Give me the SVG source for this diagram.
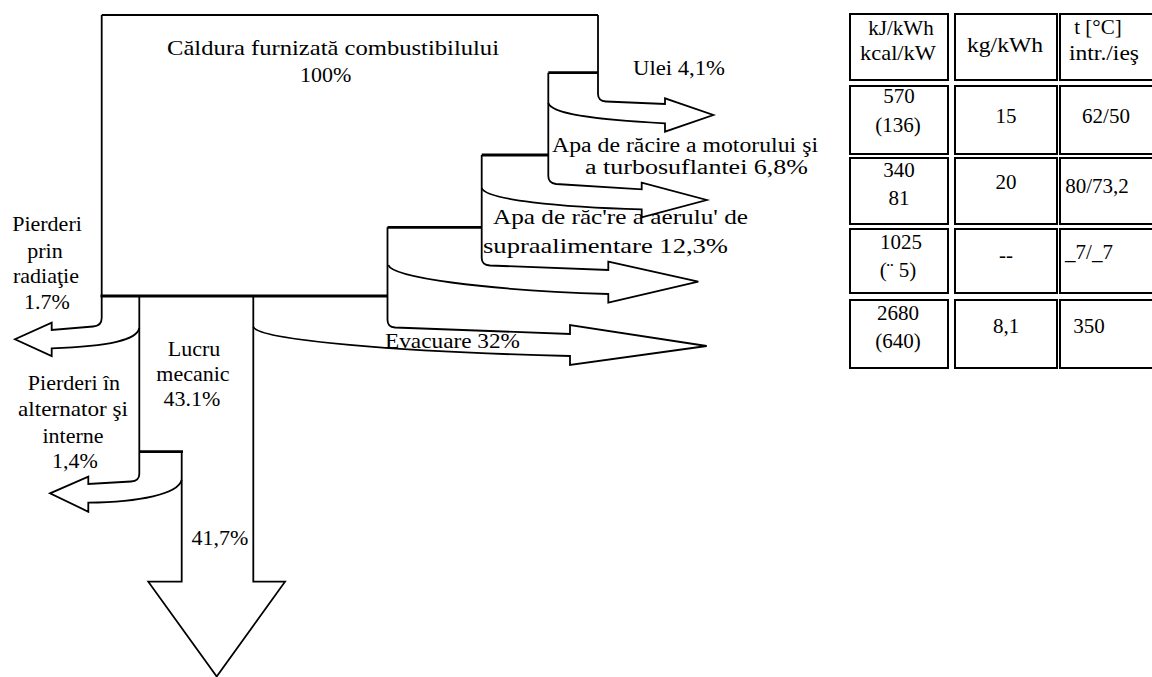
<svg xmlns="http://www.w3.org/2000/svg" width="1152" height="677" viewBox="0 0 1152 677">
<style>
.ln{fill:none;stroke:#000;stroke-width:1.8;stroke-linejoin:miter;stroke-linecap:butt}
.tk{fill:none;stroke:#000;stroke-width:2.8}
.cell{fill:#fff;stroke:#000;stroke-width:2}
text{font-family:"Liberation Serif","Times New Roman",serif;font-size:22px;fill:#000}
.tb{font-size:21px;text-anchor:middle}
.m{text-anchor:middle}
.sm{font-size:20.5px}
</style>
<rect width="1152" height="677" fill="#fff"/>
<g id="connectors">
  <path class="ln" d="M101.7,15 H598"/>
  <path class="ln" d="M598,15 V94 Q598,101 606,101.5 L665,104 V98.3 L713.3,115 L665,131.7 V123.3 C580,119 551,112 548.3,103"/>
  <path class="ln" d="M548.3,72.7 V176 Q548.3,183 556,184 L641.7,189.3 V182.7 L706.7,200 L641.7,217.3 V209.3 C560,207 486,200 481.7,188"/>
  <path class="ln" d="M481.7,155 V258 Q481.7,265 490,265.5 L608.3,270 V261.7 L698.3,281.7 L608.3,302.7 V294 C480,290 392,277 388.3,265"/>
  <path class="ln" d="M387.5,227.3 V320 Q387.5,327 395,327.5 L570,334 V325 L706.7,346 L570,365 V356 C400,352 258,340 253.3,326.7"/>
  <path class="ln" d="M101.7,15 V318 Q101.7,326 93,326.5 L51.7,330 V322.7 L15,339.3 L51.7,356 V348.3 C110,346 137,340 139.3,328"/>
  <path class="ln" d="M139.3,296 V474 Q139.3,481 131,481.5 L88.3,484 V476.7 L50,493.3 L88.3,511.7 V502.7 C140,502 178,494 181.7,480"/>
  <path class="ln" d="M181.7,451.7 V581.7 H148.3 L216.7,676.5 L285,581.7 H253.3 V296"/>
  <path class="tk" d="M548.3,72.7 H598"/>
  <path class="tk" d="M481.7,155 H548.3"/>
  <path class="tk" d="M387.5,227.3 H481.7"/>
  <path class="tk" d="M100.5,296 H387.5"/>
  <path class="tk" d="M139.3,451.7 H183"/>
</g>
<g id="caldura">
  <text x="167" y="55" textLength="332" lengthAdjust="spacingAndGlyphs">Căldura furnizată combustibilului</text>
  <text x="300" y="82">100%</text>
</g>
<g id="ulei">
  <text x="633" y="75" textLength="92" lengthAdjust="spacingAndGlyphs">Ulei 4,1%</text>
</g>
<g id="apa-motor">
  <text class="sm" x="552" y="152" textLength="266" lengthAdjust="spacingAndGlyphs">Apa de răcire a motorului şi</text>
  <text class="sm" x="585" y="174" textLength="223" lengthAdjust="spacingAndGlyphs">a turbosuflantei 6,8%</text>
</g>
<g id="apa-aer">
  <text x="493" y="224" textLength="255" lengthAdjust="spacingAndGlyphs">Apa de răc're a aerulu' de</text>
  <text x="483" y="253" textLength="245" lengthAdjust="spacingAndGlyphs">supraalimentare 12,3%</text>
</g>
<g id="evacuare">
  <text x="385" y="348" textLength="135" lengthAdjust="spacingAndGlyphs">Evacuare 32%</text>
</g>
<g id="radiatie">
  <text class="m" x="47" y="231">Pierderi</text>
  <text class="m" x="45" y="258">prin</text>
  <text class="m" x="46" y="283">radiaţie</text>
  <text class="m" x="47" y="309">1.7%</text>
</g>
<g id="alternator">
  <text class="m" x="74" y="390">Pierderi în</text>
  <text class="m" x="73" y="416" textLength="110" lengthAdjust="spacingAndGlyphs">alternator şi</text>
  <text class="m" x="73" y="443">interne</text>
  <text class="m" x="75" y="468">1,4%</text>
</g>
<g id="lucru">
  <text class="m" x="194" y="356">Lucru</text>
  <text class="m" x="193" y="381">mecanic</text>
  <text class="m" x="192" y="406">43.1%</text>
</g>
<g id="util">
  <text class="m" x="220" y="545">41,7%</text>
</g>
<g id="tabel">
  <rect class="cell" x="850" y="14" width="98" height="66"/>
  <rect class="cell" x="955" y="14" width="102" height="66"/>
  <rect class="cell" x="1060" y="14" width="96" height="66"/>
  <rect class="cell" x="850" y="86" width="98" height="68"/>
  <rect class="cell" x="955" y="86" width="102" height="68"/>
  <rect class="cell" x="1060" y="86" width="96" height="68"/>
  <rect class="cell" x="850" y="158" width="98" height="66"/>
  <rect class="cell" x="955" y="158" width="102" height="66"/>
  <rect class="cell" x="1060" y="158" width="96" height="66"/>
  <rect class="cell" x="850" y="229" width="98" height="64"/>
  <rect class="cell" x="955" y="229" width="102" height="64"/>
  <rect class="cell" x="1060" y="229" width="96" height="64"/>
  <rect class="cell" x="850" y="300" width="98" height="68"/>
  <rect class="cell" x="955" y="300" width="102" height="68"/>
  <rect class="cell" x="1060" y="300" width="96" height="68"/>
  <text class="tb" x="901" y="35">kJ/kWh</text>
  <text class="tb" x="898" y="60" textLength="76" lengthAdjust="spacingAndGlyphs">kcal/kW</text>
  <text class="tb" x="1005" y="52" textLength="76" lengthAdjust="spacingAndGlyphs">kg/kWh</text>
  <text class="tb" x="1098" y="34">t [°C]</text>
  <text class="tb" x="1104" y="60" textLength="70" lengthAdjust="spacingAndGlyphs">intr./ieş</text>
  <text class="tb" x="899" y="103">570</text>
  <text class="tb" x="898" y="132">(136)</text>
  <text class="tb" x="1006" y="123">15</text>
  <text class="tb" x="1106" y="123">62/50</text>
  <text class="tb" x="899" y="177">340</text>
  <text class="tb" x="899" y="205">81</text>
  <text class="tb" x="1006" y="189">20</text>
  <text class="tb" x="1097" y="193">80/73,2</text>
  <text class="tb" x="901" y="249">1025</text>
  <text class="tb" x="898" y="277">(¨ 5)</text>
  <text class="tb" x="1006" y="262">--</text>
  <text class="tb" x="1089" y="259">_7/_7</text>
  <text class="tb" x="898" y="320">2680</text>
  <text class="tb" x="898" y="348">(640)</text>
  <text class="tb" x="1006" y="333">8,1</text>
  <text class="tb" x="1089" y="333">350</text>
</g>
</svg>
